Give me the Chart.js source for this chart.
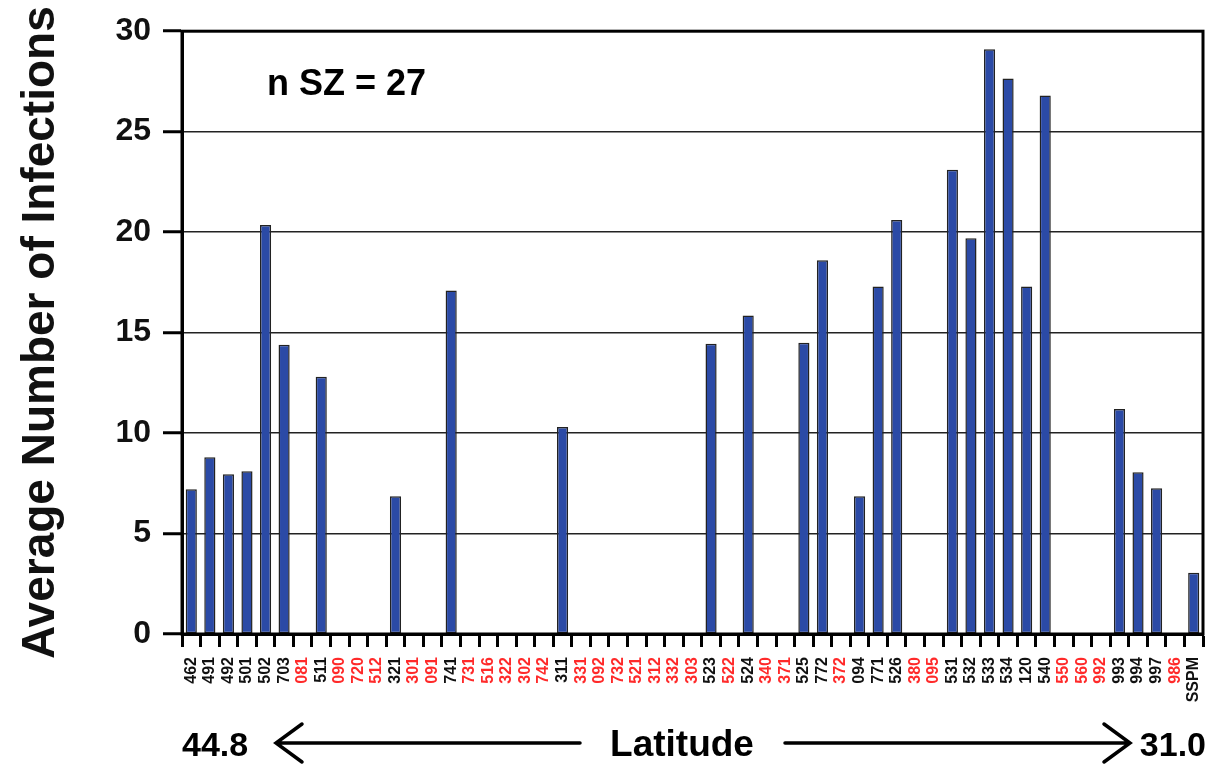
<!DOCTYPE html>
<html>
<head>
<meta charset="utf-8">
<script src="https://cdn.jsdelivr.net/npm/chart.js@4/dist/chart.umd.min.js"></script>
<style>
  html, body { margin: 0; padding: 0; background: #fff; }
  #wrap { width: 1209px; height: 766px; position: relative; }
</style>
</head>
<body>
<div id="wrap"><canvas id="c" width="1209" height="766"></canvas></div>
<script>
// Sites ordered by latitude (44.8 -> 31.0)
const sites = ["462","491","492","501","502","703","081","511","090","720","512","321","301","091","741","731","516","322","302","742","311","331","092","732","521","312","332","303","523","522","524","340","371","525","772","372","094","771","526","380","095","531","532","533","534","120","540","550","560","992","993","994","997","986","SSPM"];
// Average number of infections per site
const infections = [7.2,8.8,7.95,8.1,20.35,14.4,0,12.8,0,0,0,6.85,0,0,17.1,0,0,0,0,0,10.3,0,0,0,0,0,0,0,14.45,0,15.85,0,0,14.5,18.6,0,6.85,17.3,20.6,0,0,23.1,19.7,29.1,27.65,17.3,26.8,0,0,0,11.2,8.05,7.25,0,3.05];
// Sites without SZ samples (labelled in red)
const redSites = ["081","090","720","512","301","091","731","516","322","302","742","331","092","732","521","312","332","303","522","340","371","372","380","095","550","560","992","986"];
const yTicks = [0,5,10,15,20,25,30];
const annotation = "n SZ = 27";
const latLeft = "44.8", latRight = "31.0", latTitle = "Latitude";

const FONT = "'Liberation Sans', Arial, Helvetica, sans-serif";

const framePlugin = {
  id: 'frame',
  afterDraw(chart) {
    const ctx = chart.ctx, a = chart.chartArea;
    ctx.save();
    ctx.strokeStyle = '#000';
    ctx.lineWidth = 3;
    ctx.strokeRect(a.left, a.top, a.right - a.left, a.bottom - a.top);
    // annotation
    ctx.fillStyle = '#000';
    ctx.font = 'bold 36px ' + FONT;
    ctx.textAlign = 'left';
    ctx.textBaseline = 'alphabetic';
    ctx.fillText(annotation, a.left + 85, 95);
    // latitude line
    const yb = 756, ya = 743;
    ctx.font = 'bold 34px ' + FONT;
    ctx.textAlign = 'left';
    ctx.fillText(latLeft, 182, yb);
    ctx.textAlign = 'right';
    ctx.fillText(latRight, 1206, yb);
    ctx.textAlign = 'center';
    ctx.font = 'bold 37px ' + FONT;
    ctx.fillText(latTitle, 682, yb);
    ctx.lineWidth = 3.5;
    ctx.lineCap = 'round';
    ctx.beginPath();
    ctx.moveTo(276, ya); ctx.lineTo(580, ya);
    ctx.moveTo(302, ya - 19); ctx.lineTo(276, ya); ctx.lineTo(302, ya + 19);
    ctx.moveTo(785, ya); ctx.lineTo(1130, ya);
    ctx.moveTo(1104, ya - 19); ctx.lineTo(1130, ya); ctx.lineTo(1104, ya + 19);
    ctx.stroke();
    ctx.restore();
  }
};

new Chart(document.getElementById('c'), {
  type: 'bar',
  data: {
    labels: sites,
    datasets: [{
      data: infections,
      backgroundColor: '#2B4AA6',
      borderColor: '#222',
      borderWidth: 1.5,
      borderSkipped: false,
      categoryPercentage: 1.0,
      barPercentage: 0.6
    }]
  },
  options: {
    responsive: false,
    animation: false,
    events: [],
    layout: { padding: { top: 30, right: 6, left: 0, bottom: 0 } },
    plugins: { legend: { display: false }, tooltip: { enabled: false } },
    scales: {
      x: {
        offset: true,
        grid: { display: true, drawOnChartArea: false, offset: true, tickLength: 13, tickWidth: 3, tickColor: '#000' },
        border: { display: true, color: '#000', width: 3 },
        ticks: {
          autoSkip: false, maxRotation: 90, minRotation: 90, padding: 10,
          font: { family: FONT, size: 16, weight: 'bold' },
          color: (c) => redSites.includes(sites[c.index]) ? '#FF2A2A' : '#111'
        },
        afterFit: (s) => { s.height = 766 - 634; s.paddingLeft = 0; s.paddingRight = 0; }
      },
      y: {
        min: 0, max: 30,
        afterBuildTicks: (s) => { s.ticks = yTicks.map(v => ({ value: v })); },
        grid: { color: '#222', lineWidth: 1.5, tickColor: '#000', tickWidth: 3, tickLength: 19 },
        border: { display: true, color: '#000', width: 3 },
        ticks: { padding: 12, color: '#111', font: { family: FONT, size: 32, weight: 'bold' } },
        title: {
          display: true, text: 'Average Number of Infections', color: '#111',
          font: { family: FONT, size: 46, weight: 'bold' }, padding: { top: 14, bottom: 0 }
        },
        afterFit: (s) => { s.width = 182; }
      }
    }
  },
  plugins: [framePlugin]
});
</script>
</body>
</html>
